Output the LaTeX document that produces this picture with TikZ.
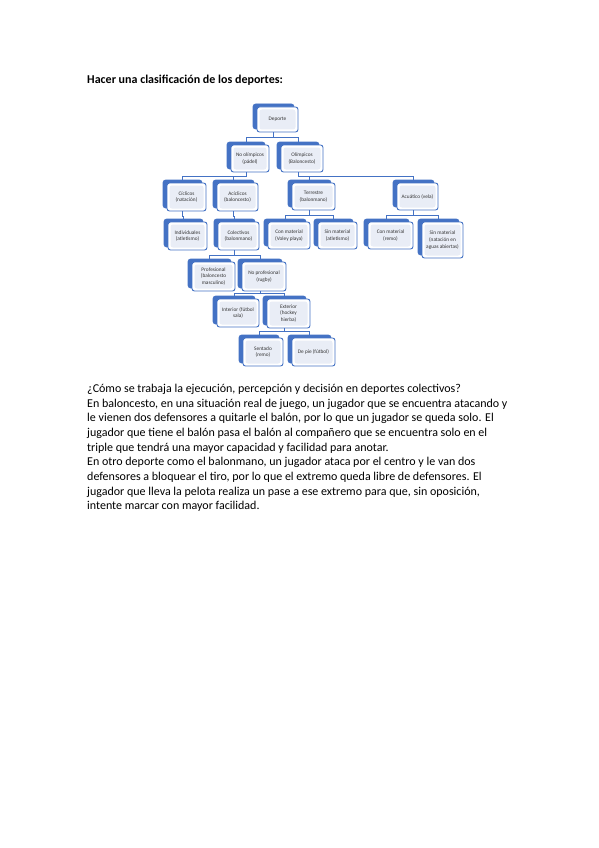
\documentclass[tikz,border=0pt]{standalone}
\usepackage{fontspec}
\setmainfont{Carlito}
\usetikzlibrary{calc}
\definecolor{sablue}{HTML}{4472C4}
\definecolor{sainner}{HTML}{E9EDF6}
\tikzset{
 backbox/.style={fill=sablue, draw=sablue, rounded corners=2.5pt, inner sep=0pt, line width=0.6pt},
 frontbox/.style={fill=white, draw=sablue, line width=0.9pt, rounded corners=2.5pt, inner sep=0pt,
   align=center, font=\fontsize{5.3}{6.8}\selectfont, text=black!80,
   path picture={\fill[sainner] ($(path picture bounding box.south west)+(2.5pt,2.5pt)$) rectangle ($(path picture bounding box.north east)-(2.5pt,2.5pt)$);}},
 conn/.style={draw=sablue, line width=1pt},
 bodytext/.style={anchor=base west, inner sep=0pt, font=\fontsize{12}{14.6}\selectfont},
}
\newcommand{\smbox}[6]{%
 \pgfmathsetmacro\cxx{(#2+#4)/2}\pgfmathsetmacro\cyy{(#3+#5)/2}%
 \pgfmathsetmacro\ww{#4-#2}\pgfmathsetmacro\hh{#5-#3}%
 \node[backbox,minimum width=\ww pt,minimum height=\hh pt] (#1b) at (\cxx-4,\cyy-3) {};%
 \node[frontbox,minimum width=\ww pt,minimum height=\hh pt] (#1) at (\cxx,\cyy) {#6};}
\newcommand{\conone}[3]{\draw[conn] (#1b.south |- #1.south) -- (#1b.south |- 0,#2) -| (#3b.north);}
\begin{document}
\begin{tikzpicture}[x=1pt,y=-1pt]
\fill[white] (0,0) rectangle (599,848);
\useasboundingbox (0,0) rectangle (599,848);

\node[bodytext] (title) at (87,84) {\textbf{Hacer una clasificación de los deportes:}};

% boxes
\smbox{dep}{257}{107}{298}{132}{Deporte}
\smbox{noo}{231}{145}{269}{172}{No olímpicos\\(pádel)}
\smbox{oli}{281}{145}{323}{172}{Olímpicos\\(Baloncesto)}
\smbox{cic}{167}{183}{206}{211}{Cíclicos\\(natación)}
\smbox{aci}{217}{183}{258}{211}{Acíclicos\\(baloncesto)}
\smbox{ter}{292}{183}{335}{210}{Terrestre\\(balonmano)}
\smbox{acu}{397}{183}{438}{210}{Acuático (vela)}
\smbox{ind}{168}{222}{207}{250}{Individuales\\(atletismo)}
\smbox{col}{218}{222}{259}{250}{Colectivos\\(balonmano)}
\smbox{cma}{268}{222}{310}{249}{Con material\\(Voley playa)}
\smbox{sma}{318}{222}{357}{249}{Sin material\\(atletismo)}
\smbox{cmb}{368}{222}{413}{249}{Con material\\(remo)}
\smbox{smb}{422}{222}{463}{258}{Sin material\\(natación en\\aguas abiertas)}
\smbox{pro}{192}{262}{235}{291}{Profesional\\(baloncesto\\masculino)}
\smbox{npr}{242}{262}{286}{291}{No profesional\\(rugby)}
\smbox{int}{217}{299}{259}{327}{Interior (fútbol\\sala)}
\smbox{ext}{267}{299}{310}{328}{Exterior\\(hockey\\hierba)}
\smbox{sen}{243}{338}{283}{366}{Sentado\\(remo)}
\smbox{dpi}{292}{338}{335}{366}{De pie (fútbol)}

% connectors
\conone{dep}{137}{noo}
\conone{dep}{137}{oli}
\conone{noo}{176}{cic}
\conone{noo}{176}{aci}
\conone{oli}{176}{ter}
\conone{oli}{176}{acu}
\conone{cic}{216}{ind}
\conone{aci}{216}{col}
\conone{ter}{215}{cma}
\conone{ter}{215}{sma}
\conone{acu}{215}{cmb}
\conone{acu}{215}{smb}
\conone{col}{255}{pro}
\conone{col}{255}{npr}
\conone{npr}{293}{int}
\conone{npr}{293}{ext}
\conone{ext}{331}{sen}
\conone{ext}{331}{dpi}

% body text
\node[bodytext] (l1) at (87,392.3) {¿Cómo se trabaja la ejecución, percepción y decisión en deportes colectivos?};
\node[bodytext] (l2) at (87,407.0) {En baloncesto, en una situación real de juego, un jugador que se encuentra atacando y};
\node[bodytext] (l3) at (87,421.7) {le vienen dos defensores a quitarle el balón, por lo que un jugador se queda solo. El};
\node[bodytext] (l4) at (87,436.4) {jugador que tiene el balón pasa el balón al compañero que se encuentra solo en el};
\node[bodytext] (l5) at (87,451.1) {triple que tendrá una mayor capacidad y facilidad para anotar.};
\node[bodytext] (l6) at (87,465.8) {En otro deporte como el balonmano, un jugador ataca por el centro y le van dos};
\node[bodytext] (l7) at (87,480.5) {defensores a bloquear el tiro, por lo que el extremo queda libre de defensores. El};
\node[bodytext] (l8) at (87,495.2) {jugador que lleva la pelota realiza un pase a ese extremo para que, sin oposición,};
\node[bodytext] (l9) at (87,509.9) {intente marcar con mayor facilidad.};
\end{tikzpicture}
\end{document}
